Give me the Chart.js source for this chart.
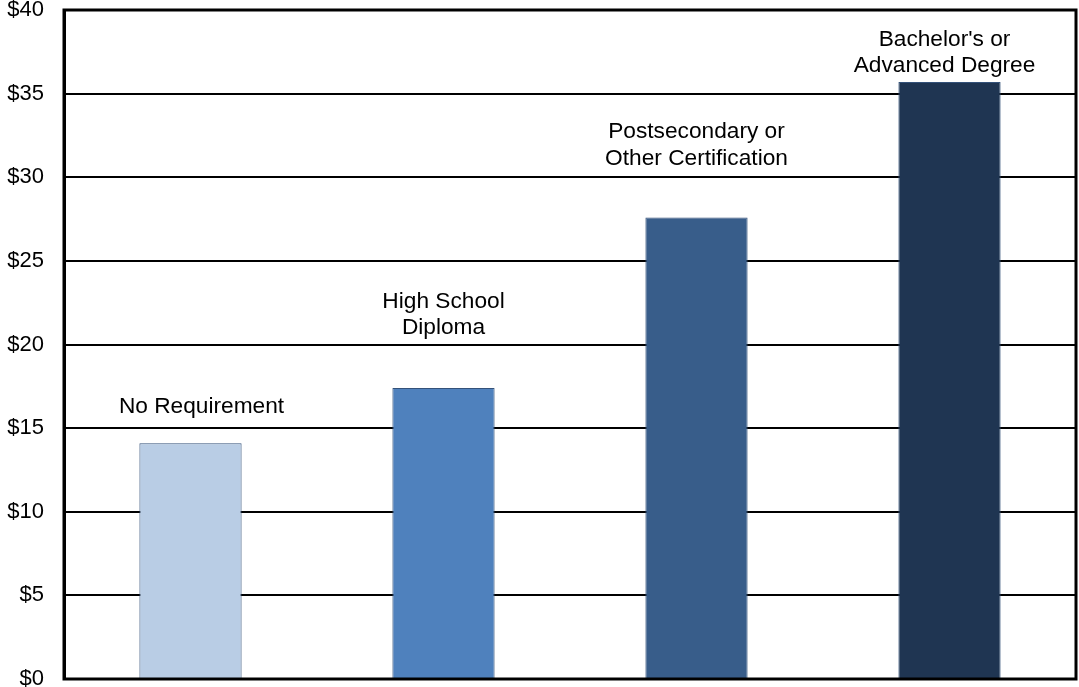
<!DOCTYPE html>
<html lang="en">

<head>
    <meta charset="UTF-8">
    <title>Hourly Wage by Education Requirement</title>
    <style>
        html, body {
            margin: 0;
            padding: 0;
            background-color: #ffffff;
        }

        #chart-box {
            width: 1079px;
            height: 687px;
        }
    </style>
</head>

<body>
    <div id="chart-box">
        <canvas id="wageChart"></canvas>
    </div>

    <script src="https://cdn.jsdelivr.net/npm/chart.js"></script>
    <script>
        // data
        const categories = [
            ['No Requirement'],
            ['High School', 'Diploma'],
            ['Postsecondary or', 'Other Certification'],
            ["Bachelor's or", 'Advanced Degree']
        ];
        const wages = [14.1, 17.4, 27.6, 35.7];
        const barColors = ['#B9CDE5', '#4F81BD', '#385D8A', '#1F3552'];
        const yTicks = [0, 5, 10, 15, 20, 25, 30, 35, 40];

        const FONT = "'Liberation Sans', Arial, sans-serif";

        // gap (px) between bar top and the last line of its label
        const labelGap = [36, 60, 59, 16];
        const labelShift = [11, 0, 0, -5];

        const barLabels = {
            id: 'barLabels',
            afterDatasetsDraw(chart) {
                const ctx = chart.ctx;
                const meta = chart.getDatasetMeta(0);
                ctx.save();
                ctx.font = '22.7px ' + FONT;
                ctx.fillStyle = '#000000';
                ctx.textAlign = 'center';
                ctx.textBaseline = 'middle';
                meta.data.forEach((bar, i) => {
                    const lines = categories[i];
                    const lastY = bar.y - labelGap[i];
                    lines.forEach((line, j) => {
                        const y = lastY - (lines.length - 1 - j) * 26.5;
                        ctx.fillText(line, bar.x + labelShift[i], y);
                    });
                });
                ctx.restore();
            }
        };

        // black frame drawn over the bars
        const frame = {
            id: 'frame',
            afterDatasetsDraw(chart) {
                const a = chart.chartArea;
                const ctx = chart.ctx;
                ctx.save();
                ctx.strokeStyle = '#000000';
                ctx.lineWidth = 3;
                ctx.strokeRect(a.left, a.top, a.right - a.left, a.bottom - a.top);
                ctx.restore();
            }
        };

        const ctx = document.getElementById('wageChart').getContext('2d');
        new Chart(ctx, {
            type: 'bar',
            data: {
                labels: categories.map(c => c.join(' ')),
                datasets: [{
                    data: wages,
                    backgroundColor: barColors,
                    borderColor: '#34527A',
                    borderWidth: 1,
                    categoryPercentage: 1,
                    barPercentage: 0.404
                }]
            },
            options: {
                responsive: true,
                maintainAspectRatio: false,
                animation: false,
                layout: {
                    padding: { top: 10, right: 3, bottom: 8, left: 0 }
                },
                plugins: {
                    legend: { display: false },
                    tooltip: { enabled: false }
                },
                scales: {
                    x: {
                        display: false
                    },
                    y: {
                        min: 0,
                        max: 40,
                        afterBuildTicks: (scale) => {
                            scale.ticks = yTicks.map(v => ({ value: v }));
                        },
                        afterFit: (scale) => {
                            scale.width = 64;
                            // tick labels may hang over the plot edges
                            scale.paddingTop = 0;
                            scale.paddingBottom = 0;
                        },
                        ticks: {
                            color: '#000000',
                            padding: 20,
                            font: { family: FONT, size: 22 },
                            callback: (v) => '$' + v
                        },
                        grid: {
                            color: '#000000',
                            lineWidth: 2,
                            drawTicks: false
                        },
                        border: {
                            color: '#000000',
                            width: 3
                        }
                    }
                }
            },
            plugins: [barLabels, frame]
        });
    </script>
</body>

</html>
